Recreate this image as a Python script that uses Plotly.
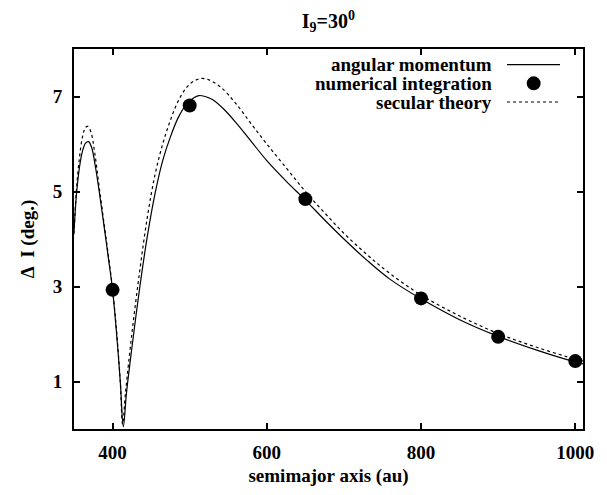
import plotly.graph_objects as go

# ---- data ----
am_a = [350, 353, 357, 361, 365, 369, 373, 378, 384, 390, 395, 400, 405, 410, 414,
        418, 425, 435, 445, 455, 465, 475, 485, 495, 505, 512, 520, 530, 545, 560,
        580, 600, 625, 650, 675, 700, 730, 760, 800, 850, 900, 950, 1000, 1010]
am_di = [4.15, 4.9, 5.5, 5.85, 6.02, 6.05, 5.92, 5.5, 4.85, 4.15, 3.55, 2.93, 2.05, 1.0, 0.05,
         0.75, 1.7, 2.95, 4.05, 4.95, 5.65, 6.15, 6.55, 6.82, 6.97, 7.02, 7.0, 6.93, 6.72, 6.45,
         6.05, 5.65, 5.22, 4.82, 4.4, 4.0, 3.55, 3.15, 2.74, 2.3, 1.95, 1.66, 1.41, 1.37]

sec_a = [350, 353, 357, 361, 365, 368, 372, 377, 383, 390, 395, 400, 405, 410, 413,
         417, 425, 435, 445, 455, 465, 475, 485, 495, 505, 515, 525, 540, 560, 580,
         600, 625, 650, 675, 700, 730, 760, 800, 850, 900, 950, 1000, 1010]
sec_di = [4.1, 5.0, 5.7, 6.15, 6.35, 6.37, 6.25, 5.8, 5.05, 4.2, 3.6, 2.95, 2.1, 1.0, 0.1,
          0.8, 2.0, 3.3, 4.45, 5.35, 6.0, 6.5, 6.9, 7.17, 7.32, 7.38, 7.35, 7.2, 6.85, 6.42,
          6.0, 5.5, 5.0, 4.55, 4.12, 3.67, 3.27, 2.82, 2.38, 2.01, 1.72, 1.47, 1.43]

num_a = [400, 500, 650, 800, 900, 1000]
num_di = [2.93, 6.81, 4.84, 2.75, 1.94, 1.43]

x_ticks = [400, 600, 800, 1000]
y_ticks = [1, 3, 5, 7]

legend_labels = ["angular momentum", "numerical integration", "secular theory"]

FONT = "Liberation Serif"
FS = 19

fig = go.Figure()
fig.add_trace(go.Scatter(x=sec_a, y=sec_di, mode="lines", line_shape="spline",
                         line=dict(color="black", width=1.2, dash="dot"), showlegend=False))
fig.add_trace(go.Scatter(x=am_a, y=am_di, mode="lines", line_shape="spline",
                         line=dict(color="black", width=1.2), showlegend=False))
fig.add_trace(go.Scatter(x=num_a, y=num_di, mode="markers",
                         marker=dict(color="black", size=14), showlegend=False))

axis_common = dict(showline=True, linecolor="black", linewidth=2, mirror="ticks",
                   ticks="inside", ticklen=6, tickwidth=1.5, tickcolor="black",
                   showgrid=False, zeroline=False,
                   tickfont=dict(family=FONT, size=FS, color="black", weight="bold"))

fig.update_xaxes(range=[350, 1010], tickvals=x_ticks, ticklabelstandoff=5,
                 title=dict(text="semimajor axis (au)", standoff=7,
                            font=dict(family=FONT, size=FS, color="black", weight="bold")),
                 **axis_common)
fig.update_yaxes(range=[0, 8], tickvals=y_ticks, ticklabelstandoff=6,
                 title=dict(text="Δ  I (deg.)", standoff=13,
                            font=dict(family=FONT, size=FS, color="black", weight="bold")),
                 **axis_common)

# custom gnuplot-style legend (text right-aligned, sample to the right)
ys = [0.9587, 0.9096, 0.8605]
for lab, yy in zip(legend_labels, ys):
    fig.add_annotation(x=0.825, y=yy, xref="paper", yref="paper", text=lab,
                       showarrow=False, xanchor="right", yanchor="middle",
                       font=dict(family=FONT, size=FS, color="black", weight="bold"))
fig.add_shape(type="line", xref="paper", yref="paper", x0=0.8507, x1=0.9548,
              y0=ys[0], y1=ys[0], line=dict(color="black", width=1.2))
fig.add_shape(type="line", xref="paper", yref="paper", x0=0.8507, x1=0.9548,
              y0=ys[2], y1=ys[2], line=dict(color="black", width=1.2, dash="dot"))
fig.add_shape(type="circle", xref="paper", yref="paper", xsizemode="pixel", ysizemode="pixel",
              xanchor=0.9031, yanchor=ys[1], x0=-7, x1=7, y0=-7, y1=7,
              fillcolor="black", line=dict(color="black", width=0))

fig.update_layout(
    width=607, height=495,
    margin=dict(l=74, r=24, t=49, b=59),
    paper_bgcolor="white", plot_bgcolor="white",
    title=dict(text="I<sub>9</sub>=30<sup>0</sup>", x=0.541, xanchor="center",
               y=0.957, yanchor="middle",
               font=dict(family=FONT, size=20, color="black", weight="bold")),
    showlegend=False,
)

fig.write_html("out.html")
